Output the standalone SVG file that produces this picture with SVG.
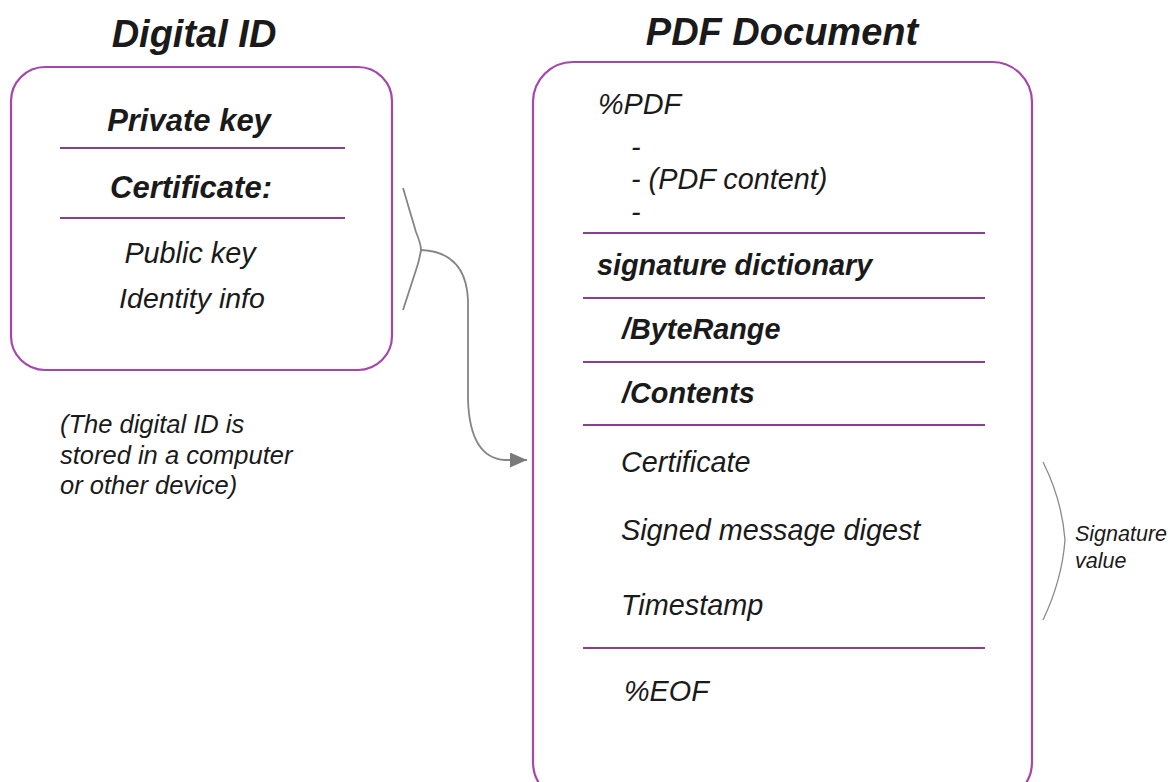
<svg xmlns="http://www.w3.org/2000/svg" width="1170" height="782" viewBox="0 0 1170 782">
  <style>
    .box { fill: #fff; stroke: #A447AC; stroke-width: 2.2; }
    .rule { stroke: #8A3F8E; stroke-width: 2; }
    .t { font-family: "Liberation Sans", Arial, sans-serif; font-style: italic; fill: #1a1a1a; }
    .b { font-weight: bold; }
    .title { font-size: 38px; font-weight: bold; }
    .row { font-size: 28.8px; }
    .conn { fill: none; stroke: #858585; stroke-width: 1.8; }
    .thin { fill: none; stroke: #8a8a8a; stroke-width: 1.3; }
  </style>
  <defs>
    <marker id="arrow" markerWidth="17" markerHeight="15" refX="17" refY="7.5" orient="auto" markerUnits="userSpaceOnUse" viewBox="0 0 17 15">
      <path d="M0,0 L17,7.5 L0,15 Z" fill="#7a7a7a"/>
    </marker>
  </defs>
  <rect width="1170" height="782" fill="#fff"/>

  <text class="t title" x="194" y="47" text-anchor="middle">Digital ID</text>
  <text class="t title" x="782" y="45" text-anchor="middle">PDF Document</text>

  <g id="digital-id">
    <rect class="box" x="11" y="67" width="381" height="303" rx="34" ry="34"/>
    <text class="t b" x="189" y="131" font-size="31" text-anchor="middle">Private key</text>
    <line class="rule" x1="60" y1="148" x2="345" y2="148"/>
    <text class="t b" x="191" y="198" font-size="31" text-anchor="middle">Certificate:</text>
    <line class="rule" x1="60" y1="218" x2="345" y2="218"/>
    <text class="t" x="190" y="263" font-size="28.8" text-anchor="middle">Public key</text>
    <text class="t" x="192" y="308" font-size="28.5" text-anchor="middle">Identity info</text>
  </g>

  <g id="note">
    <text class="t" x="60" y="433" font-size="25.5">(The digital ID is</text>
    <text class="t" x="60" y="464" font-size="25.5">stored in a computer</text>
    <text class="t" x="60" y="494" font-size="25.5">or other device)</text>
  </g>

  <g id="pdf-document">
    <rect class="box" x="533" y="62" width="499" height="740" rx="40" ry="40"/>
    <text class="t row" x="598" y="114">%PDF</text>
    <text class="t row" x="631" y="157">-</text>
    <text class="t row" x="631" y="189">- (PDF content)</text>
    <text class="t row" x="631" y="222">-</text>
    <line class="rule" x1="583" y1="233" x2="985" y2="233"/>
    <text class="t b row" x="597" y="275">signature dictionary</text>
    <line class="rule" x1="583" y1="298" x2="985" y2="298"/>
    <text class="t b row" x="622" y="339">/ByteRange</text>
    <line class="rule" x1="583" y1="362" x2="985" y2="362"/>
    <text class="t b row" x="622" y="403">/Contents</text>
    <line class="rule" x1="583" y1="425" x2="985" y2="425"/>
    <text class="t row" x="621" y="472">Certificate</text>
    <text class="t row" x="621" y="540">Signed message digest</text>
    <text class="t row" x="621" y="615">Timestamp</text>
    <line class="rule" x1="583" y1="648" x2="985" y2="648"/>
    <text class="t row" x="624" y="701">%EOF</text>
  </g>

  <g id="signature-value">
    <path class="thin" d="M1043,462 Q1062,500 1065,540 Q1062,580 1043,620"/>
    <text class="t" x="1075" y="541" font-size="21.5">Signature</text>
    <text class="t" x="1075" y="568" font-size="21.5">value</text>
  </g>

  <g id="connectors">
    <path class="conn" d="M403,188 L416,232 Q421,244 421,250 Q419,262 416,270 L403,310"/>
    <path class="conn" marker-end="url(#arrow)" d="M421,250 Q466,252 468,300 L468,400 Q470,458 505,460 L527,460"/>
  </g>
</svg>
